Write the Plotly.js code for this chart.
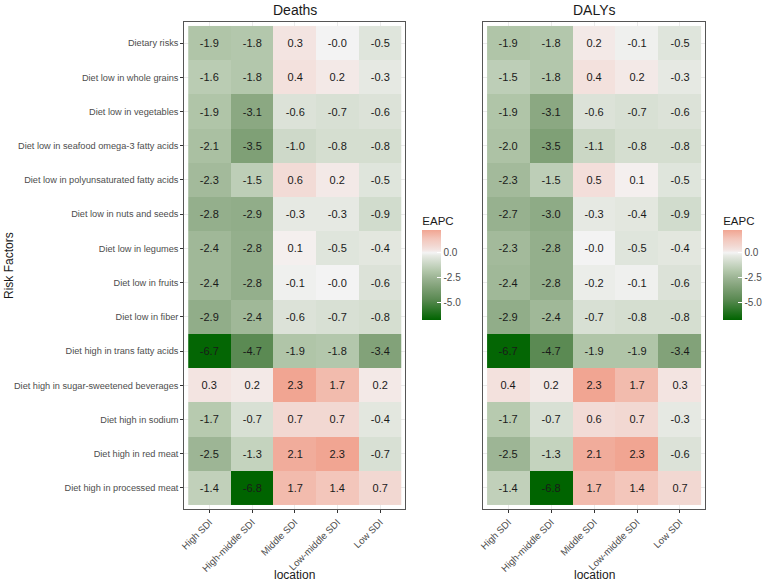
<!DOCTYPE html>
<html>
<head>
<meta charset="utf-8">
<script src="https://cdn.plot.ly/plotly-3.0.1.min.js"></script>
<style>html,body{margin:0;padding:0;background:#fff;}#chart{width:767px;height:583px;}</style>
</head>
<body>
<div id="chart"></div>
<script>
const locations = ['High SDI','High-middle SDI','Middle SDI','Low-middle SDI','Low SDI'];
const riskFactors = [
  'Dietary risks',
  'Diet low in whole grains',
  'Diet low in vegetables',
  'Diet low in seafood omega-3 fatty acids',
  'Diet low in polyunsaturated fatty acids',
  'Diet low in nuts and seeds',
  'Diet low in legumes',
  'Diet low in fruits',
  'Diet low in fiber',
  'Diet high in trans fatty acids',
  'Diet high in sugar-sweetened beverages',
  'Diet high in sodium',
  'Diet high in red meat',
  'Diet high in processed meat'
];
const deathsEAPC = [
  [-1.9, -1.8, 0.3, -0.02, -0.5],
  [-1.6, -1.8, 0.4, 0.2, -0.3],
  [-1.9, -3.1, -0.6, -0.7, -0.6],
  [-2.1, -3.5, -1.0, -0.8, -0.8],
  [-2.3, -1.5, 0.6, 0.2, -0.5],
  [-2.8, -2.9, -0.3, -0.3, -0.9],
  [-2.4, -2.8, 0.1, -0.5, -0.4],
  [-2.4, -2.8, -0.1, -0.02, -0.6],
  [-2.9, -2.4, -0.6, -0.7, -0.8],
  [-6.7, -4.7, -1.9, -1.8, -3.4],
  [0.3, 0.2, 2.3, 1.7, 0.2],
  [-1.7, -0.7, 0.7, 0.7, -0.4],
  [-2.5, -1.3, 2.1, 2.3, -0.7],
  [-1.4, -6.8, 1.7, 1.4, 0.7]
];
const dalysEAPC = [
  [-1.9, -1.8, 0.2, -0.1, -0.5],
  [-1.5, -1.8, 0.4, 0.2, -0.3],
  [-1.9, -3.1, -0.6, -0.7, -0.6],
  [-2.0, -3.5, -1.1, -0.8, -0.8],
  [-2.3, -1.5, 0.5, 0.1, -0.5],
  [-2.7, -3.0, -0.3, -0.4, -0.9],
  [-2.3, -2.8, -0.02, -0.5, -0.4],
  [-2.4, -2.8, -0.2, -0.1, -0.6],
  [-2.9, -2.4, -0.7, -0.8, -0.8],
  [-6.7, -4.7, -1.9, -1.9, -3.4],
  [0.4, 0.2, 2.3, 1.7, 0.3],
  [-1.7, -0.7, 0.6, 0.7, -0.3],
  [-2.5, -1.3, 2.1, 2.3, -0.6],
  [-1.4, -6.8, 1.7, 1.4, 0.7]
];
const colorTicks = [-5, -2.5, 0];
const colorTickText = ['-5.0', '-2.5', '0.0'];

const zmin = -6.8, zmax = 2.3;
function pos(v){ return (v - zmin) / (zmax - zmin); }
const colorscale = [
  [pos(-6.8), '#006400'],
  [pos(-4.7), '#5b8a53'],
  [pos(-3.5), '#7fa076'],
  [pos(-2.5), '#9db595'],
  [pos(-1.9), '#b0c5a8'],
  [pos(-0.7), '#d8e0d4'],
  [pos(-0.3), '#e6e9e3'],
  [pos(0), '#f4f4f4'],
  [pos(0.3), '#f3e4e1'],
  [pos(0.7), '#f2d8d2'],
  [pos(1.4), '#f3c6bb'],
  [pos(2.3), '#f1a592']
];

const W = 767, H = 583;
const FONT = 'Liberation Sans, Arial, sans-serif';
function fmt(m){ return m.map(r => r.map(v => v.toFixed(1))); }

function cbar(xpx){
  return {
    title: {text: 'EAPC', side: 'top', font: {size: 11.5, color: '#1a1a1a', family: FONT}},
    x: xpx / W, xanchor: 'left', xref: 'paper',
    y: 1 - 320 / H, yanchor: 'bottom',
    len: 107, lenmode: 'pixels',
    thickness: 19, thicknessmode: 'pixels',
    xpad: 0, ypad: 0, outlinewidth: 0,
    tickmode: 'array', tickvals: colorTicks, ticktext: colorTickText,
    ticks: 'inside', ticklen: 4, tickcolor: '#ffffff',
    tickfont: {size: 10, color: '#4d4d4d', family: FONT}
  };
}

const traces = [
  {
    type: 'heatmap', x: locations, y: riskFactors, z: deathsEAPC,
    text: fmt(deathsEAPC), texttemplate: '%{text}',
    textfont: {size: 11, color: '#1a1a1a', family: FONT},
    colorscale: colorscale, zmin: zmin, zmax: zmax,
    colorbar: cbar(424), xaxis: 'x', yaxis: 'y', hoverinfo: 'skip'
  },
  {
    type: 'heatmap', x: locations, y: riskFactors, z: dalysEAPC,
    text: fmt(dalysEAPC), texttemplate: '%{text}',
    textfont: {size: 11, color: '#1a1a1a', family: FONT},
    colorscale: colorscale, zmin: zmin, zmax: zmax,
    colorbar: cbar(726), xaxis: 'x2', yaxis: 'y2', hoverinfo: 'skip'
  }
];

const yDomain = [1 - 509 / H, 1 - 22 / H];
const xAxisBase = {
  type: 'category', categoryorder: 'array', categoryarray: locations,
  range: [-0.593, 4.593], autorange: false,
  tickangle: -45, ticks: 'outside', ticklen: 3, tickcolor: '#333333',
  tickfont: {size: 9.6, color: '#4d4d4d', family: FONT},
  showline: true, mirror: true, linecolor: '#555555', linewidth: 1,
  showgrid: true, gridcolor: '#ebebeb', zeroline: false, fixedrange: true
};
const yAxisBase = {
  type: 'category', categoryorder: 'array', categoryarray: riskFactors,
  range: [13.616, -0.616], autorange: false, domain: yDomain,
  showline: true, mirror: true, linecolor: '#555555', linewidth: 1,
  showgrid: true, gridcolor: '#ebebeb', zeroline: false, fixedrange: true
};

const layout = {
  width: W, height: H,
  margin: {l: 0, r: 0, t: 0, b: 0},
  paper_bgcolor: '#ffffff', plot_bgcolor: '#ffffff',
  font: {family: FONT},
  xaxis: Object.assign({}, xAxisBase, {domain: [185 / W, 407 / W], anchor: 'y'}),
  xaxis2: Object.assign({}, xAxisBase, {domain: [485 / W, 708 / W], anchor: 'y2'}),
  yaxis: Object.assign({}, yAxisBase, {
    anchor: 'x', ticks: 'outside', ticklen: 3, tickcolor: '#333333',
    tickfont: {size: 9.2, color: '#4d4d4d', family: FONT}
  }),
  yaxis2: Object.assign({}, yAxisBase, {anchor: 'x2', showticklabels: false, ticks: ''}),
  annotations: [
    {text: 'Deaths', x: 296 / W, y: 1 - 10 / H, xref: 'paper', yref: 'paper',
     xanchor: 'center', yanchor: 'middle', showarrow: false,
     font: {size: 14, color: '#1a1a1a', family: FONT}},
    {text: 'DALYs', x: 596.5 / W, y: 1 - 10 / H, xref: 'paper', yref: 'paper',
     xanchor: 'center', yanchor: 'middle', showarrow: false,
     font: {size: 14, color: '#1a1a1a', family: FONT}},
    {text: 'location', x: 296 / W, y: 1 - 575 / H, xref: 'paper', yref: 'paper',
     xanchor: 'center', yanchor: 'middle', showarrow: false,
     font: {size: 12, color: '#1a1a1a', family: FONT}},
    {text: 'location', x: 596.5 / W, y: 1 - 575 / H, xref: 'paper', yref: 'paper',
     xanchor: 'center', yanchor: 'middle', showarrow: false,
     font: {size: 12, color: '#1a1a1a', family: FONT}},
    {text: 'Risk Factors', x: 9 / W, y: 1 - 265 / H, xref: 'paper', yref: 'paper',
     xanchor: 'center', yanchor: 'middle', showarrow: false, textangle: -90,
     font: {size: 12, color: '#1a1a1a', family: FONT}}
  ]
};

Plotly.newPlot('chart', traces, layout, {staticPlot: true, displayModeBar: false});
</script>
</body>
</html>
